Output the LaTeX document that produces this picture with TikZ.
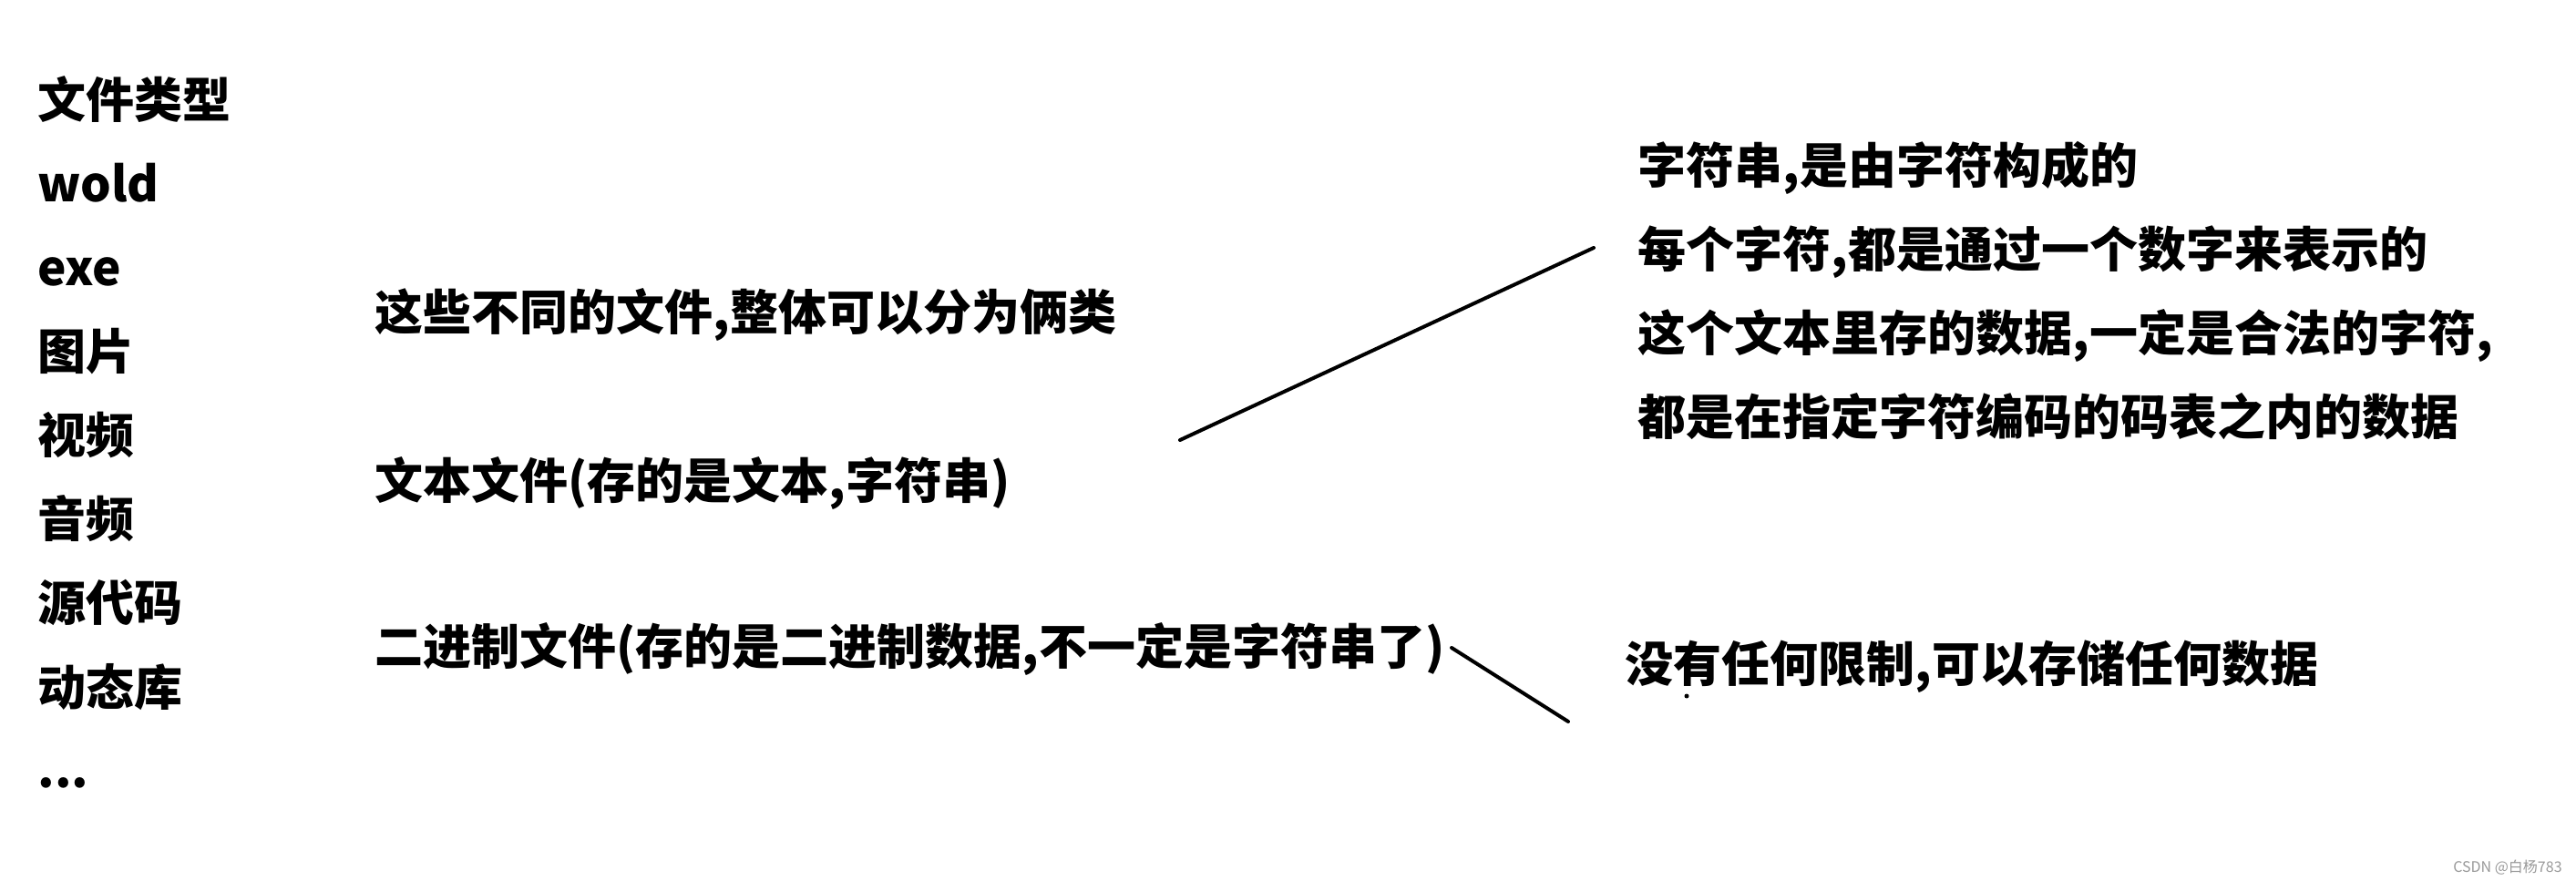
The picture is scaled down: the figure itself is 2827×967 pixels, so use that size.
\documentclass[tikz,border=0pt]{standalone}
\usepackage{fontspec}
\setmainfont{Noto Sans CJK SC}[BoldFont={Noto Sans CJK SC Black}]
\newfontfamily\wmfont{Noto Sans CJK SC}
\begin{document}
\begin{tikzpicture}[x=0.5pt,y=-0.5pt,
  txt/.style={anchor=base west, inner sep=0pt, font=\bfseries\fontsize{26.5}{30}\selectfont},
  link/.style={line width=2pt, line cap=round, black}]
\fill[white] (0,0) rectangle (2827,967);
\useasboundingbox (0,0) rectangle (2827,967);
% left column
\node[txt] (t0) at (41,130) {文件类型};
\node[txt] (t1) at (41,222) {wold};
\node[txt] (t2) at (41,314) {exe};
\node[txt] (t3) at (41,406) {图片};
\node[txt] (t4) at (41,498) {视频};
\node[txt] (t5) at (41,590) {音频};
\node[txt] (t6) at (41,682) {源代码};
\node[txt] (t7) at (41,774) {动态库};
\node[txt] (t8) at (41,864) {...};
% middle
\node[txt] (m0) at (411,363) {这些不同的文件,整体可以分为俩类};
\node[txt] (m1) at (411,548) {文本文件(存的是文本,字符串)};
\node[txt] (m2) at (411,729) {二进制文件(存的是二进制数据,不一定是字符串了)};
% right
\node[txt] (r0) at (1797,202) {字符串,是由字符构成的};
\node[txt] (r1) at (1797,294) {每个字符,都是通过一个数字来表示的};
\node[txt] (r2) at (1797,386) {这个文本里存的数据,一定是合法的字符,};
\node[txt] (r3) at (1797,478) {都是在指定字符编码的码表之内的数据};
\node[txt] (b0) at (1783,748) {没有任何限制,可以存储任何数据};
% connectors
\coordinate (a1) at (1295,483);
\coordinate (a2) at (1749,272);
\coordinate (c1) at (1593,711);
\coordinate (c2) at (1721,792);
\draw[link] (a1) -- (a2);
\draw[link] (c1) -- (c2);
\fill (1851,764) circle (2.5);
% watermark
\node[anchor=base east, inner sep=0pt, text=black!40, font=\wmfont\fontsize{8}{9}\selectfont] (wm) at (2812,957) {CSDN @白杨783};
\end{tikzpicture}
\end{document}
